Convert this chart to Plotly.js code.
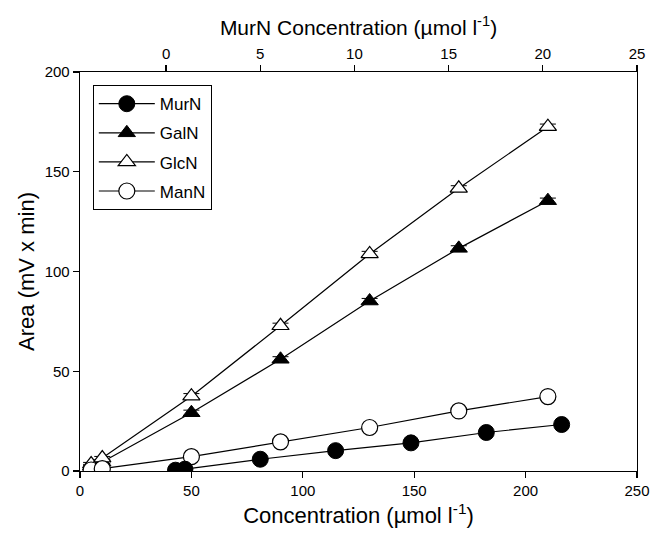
<!DOCTYPE html>
<html>
<head>
<meta charset="utf-8">
<script src="https://cdn.plot.ly/plotly-3.0.1.min.js"></script>
<style>html,body{margin:0;padding:0;background:#fff;}#chart{width:651px;height:534px;}</style>
</head>
<body>
<div id="chart"></div>
<script>
// MurN plotted against the top axis (MurN concentration, µmol l-1)
const murnX = [0.5, 1, 5, 9, 13, 17, 21];
const murnY = [0.4, 0.9, 5.9, 10.2, 14.1, 19.3, 23.3];
// Other amino sugars against the bottom axis (µmol l-1)
const concX = [5, 10, 50, 90, 130, 170, 210];
const galnY = [2.5, 4.5, 29.2, 56.0, 85.2, 111.6, 135.5];
const galnErr = [0.8, 0.8, 1.3, 1.3, 1.3, 1.3, 1.3];
const glcnY = [3.5, 6.5, 37.5, 72.8, 108.8, 141.7, 172.6];
const glcnErr = [0.8, 0.8, 1.3, 1.3, 1.3, 1.3, 1.3];
const mannY = [0.5, 1.2, 7.2, 14.6, 21.8, 30.1, 37.3];
const xTicks = [0, 50, 100, 150, 200, 250];
const topTicks = [0, 5, 10, 15, 20, 25];
const yTicks = [0, 50, 100, 150, 200];

const FONT = 'Liberation Sans, Arial, sans-serif';
const lineSty = {color: '#000', width: 1.2};

const traces = [
  {name: 'MurN', legendgroup: 'a', x: murnX, y: murnY, xaxis: 'x2', yaxis: 'y', mode: 'lines+markers',
   line: lineSty, marker: {symbol: 'circle', size: 16, color: '#000', line: {color: '#000', width: 1}}},
  {name: 'GalN', legendgroup: 'b', x: concX, y: galnY, mode: 'lines+markers',
   error_y: {type: 'data', array: galnErr, visible: true, color: '#000', thickness: 1, width: 8},
   line: lineSty, marker: {symbol: 'triangle-up', size: 15, color: '#000', line: {color: '#000', width: 1}}},
  {name: 'GlcN', legendgroup: 'c', x: concX, y: glcnY, mode: 'lines+markers',
   error_y: {type: 'data', array: glcnErr, visible: true, color: '#000', thickness: 1, width: 8},
   line: lineSty, marker: {symbol: 'triangle-up', size: 15, color: '#fff', line: {color: '#000', width: 1.2}}},
  {name: 'ManN', legendgroup: 'd', x: concX, y: mannY, mode: 'lines+markers',
   line: lineSty, marker: {symbol: 'circle', size: 16, color: '#fff', line: {color: '#000', width: 1.2}}}
];

const axisCommon = {
  showgrid: false, zeroline: false, showline: true, linecolor: '#000', linewidth: 1.3,
  ticks: 'outside', ticklen: 6, tickwidth: 1.2, tickcolor: '#000',
  ticklabeloverflow: 'allow',
  tickfont: {family: FONT, size: 15, color: '#000'}
};

const layout = {
  width: 651, height: 534,
  margin: {l: 80, r: 14, t: 72, b: 63},
  paper_bgcolor: '#fff', plot_bgcolor: '#fff',
  font: {family: FONT, color: '#000'},
  showlegend: true,
  xaxis: Object.assign({}, axisCommon, {
    range: [0, 250], tickvals: xTicks, ticktext: xTicks.map(String),
    title: {text: 'Concentration (µmol l<sup>-1</sup>)', font: {family: FONT, size: 22, color: '#000'}, standoff: 9}
  }),
  xaxis2: Object.assign({}, axisCommon, {
    overlaying: 'x', side: 'top', anchor: 'y',
    range: [-4.57, 25], tickvals: topTicks, ticktext: topTicks.map(String),
    title: {text: 'MurN Concentration (µmol l<sup>-1</sup>)', font: {family: FONT, size: 21, color: '#000'}, standoff: 3}
  }),
  yaxis: Object.assign({}, axisCommon, {
    range: [0, 200], tickvals: yTicks, ticktext: yTicks.map(String), mirror: true,
    title: {text: 'Area (mV x min)', font: {family: FONT, size: 22, color: '#000'}, standoff: 4}
  }),
  legend: {
    x: 0.023, y: 0.967, xanchor: 'left', yanchor: 'top',
    bgcolor: '#fff', bordercolor: '#000', borderwidth: 1,
    font: {family: FONT, size: 17, color: '#000'},
    tracegroupgap: 4, itemwidth: 56
  }
};

Plotly.newPlot('chart', traces, layout, {displayModeBar: false, staticPlot: true});
</script>
</body>
</html>
